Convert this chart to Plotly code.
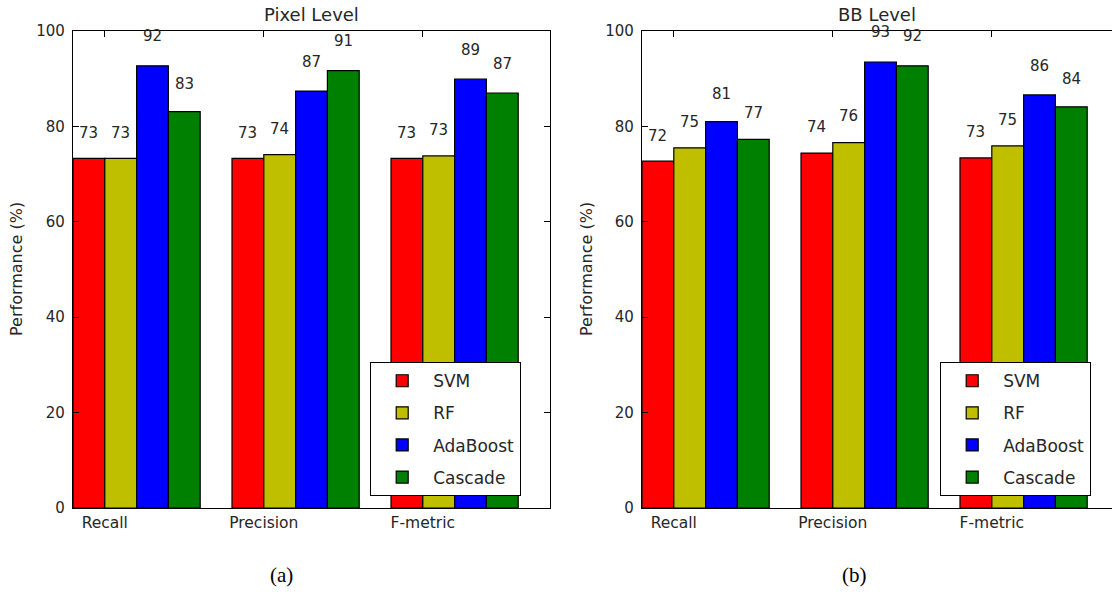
import numpy as np
import plotly.graph_objects as go

categories = ["Recall", "Precision", "F-metric"]
methods = ["SVM", "RF", "AdaBoost", "Cascade"]
colors = ["#ff0000", "#bfbf00", "#0000ff", "#008000"]

pixel_svm = [73.3, 73.3, 73.3]
pixel_rf = [73.3, 74.1, 73.8]
pixel_ada = [92.7, 87.4, 89.9]
pixel_cascade = [83.1, 91.7, 87.0]

bb_svm = [72.7, 74.4, 73.4]
bb_rf = [75.5, 76.6, 75.9]
bb_ada = [81.0, 93.5, 86.6]
bb_cascade = [77.3, 92.7, 84.1]

y_ticks = [0, 20, 40, 60, 80, 100]

W, H = 1112, 592
FONT = "DejaVu Sans"
TXT = "#262626"

ind = np.arange(len(categories))
bw = 0.2

fig = go.Figure()

panels = [
    ([pixel_svm, pixel_rf, pixel_ada, pixel_cascade], "x", "y", "legend", "Pixel Level"),
    ([bb_svm, bb_rf, bb_ada, bb_cascade], "x2", "y2", "legend2", "BB Level"),
]

annotations = []
for series, xa, ya, lg, title in panels:
    for k, (name, vals, col) in enumerate(zip(methods, series, colors)):
        xs = ind + k * bw + bw / 2
        fig.add_trace(go.Bar(
            x=xs, y=vals, width=bw, name=name,
            marker=dict(color=col, line=dict(color="black", width=1.2)),
            xaxis=xa, yaxis=ya, legend=lg, legendgroup=name + lg,
            hoverinfo="skip",
        ))
        for xv, v in zip(xs, vals):
            annotations.append(dict(
                x=xv, y=1.05 * v, xref=xa, yref=ya, text=str(int(v)),
                showarrow=False, yanchor="bottom", xanchor="center", yshift=-2,
                borderpad=0, font=dict(family=FONT, size=15, color=TXT)))
    annotations.append(dict(
        x=0.5, y=1, xref=xa + " domain", yref=ya + " domain", text=title,
        showarrow=False, yanchor="bottom", xanchor="center", yshift=5,
        borderpad=0, font=dict(family=FONT, size=18, color=TXT)))

# y-axis titles
for xp in [16 / W, 586 / W]:
    annotations.append(dict(
        x=xp, y=(592 - 269) / H, xref="paper", yref="paper", text="Performance (%)",
        textangle=-90, showarrow=False, xanchor="center", yanchor="middle",
        font=dict(family=FONT, size=16, color=TXT)))

# captions
for xp, t in [(281 / W, "(a)"), (854 / W, "(b)")]:
    annotations.append(dict(
        x=xp, y=(592 - 575) / H, xref="paper", yref="paper", text=t,
        showarrow=False, xanchor="center", yanchor="middle",
        font=dict(family="Liberation Serif", size=21, color="black")))

ydom = [(592 - 508) / H, (592 - 31) / H]
px_per_unit = 477 / 3.0

common_x = dict(
    tickvals=list(ind + bw), ticktext=categories, ticks="inside", ticklen=6,
    tickcolor="black", showline=True, linecolor="black", linewidth=1.2,
    showgrid=False, zeroline=False, automargin=False,
    tickfont=dict(family=FONT, size=15.5, color=TXT),
)
common_y = dict(
    range=[0, 100], tickvals=y_ticks, ticks="inside", ticklen=6, tickcolor="black",
    showline=True, linecolor="black", linewidth=1.2, showgrid=False, zeroline=False,
    automargin=False, tickfont=dict(family=FONT, size=15, color=TXT),
    ticklabelstandoff=4,
)

legend_common = dict(
    bgcolor="white", bordercolor="black", borderwidth=1.2,
    font=dict(family=FONT, size=17, color=TXT), xanchor="left", yanchor="top",
    tracegroupgap=7, traceorder="grouped", itemclick=False, itemdoubleclick=False,
    itemwidth=52,
)

fig.update_layout(
    width=W, height=H, margin=dict(l=0, r=0, t=0, b=0, autoexpand=False),
    paper_bgcolor="white", plot_bgcolor="white", barmode="overlay",
    xaxis=dict(domain=[73 / W, 550 / W], range=[0, 3], mirror="ticks", **common_x),
    yaxis=dict(domain=ydom, mirror="ticks", **common_y),
    xaxis2=dict(domain=[642 / W, 1.0], range=[0, (1112 - 642) / px_per_unit],
                mirror="ticks", anchor="y2", **common_x),
    yaxis2=dict(domain=ydom, anchor="x2", mirror=False, **common_y),
    legend=dict(x=370 / W, y=(592 - 362) / H, **legend_common),
    legend2=dict(x=940 / W, y=(592 - 362) / H, **legend_common),
    annotations=annotations,
    showlegend=True,
)

fig.write_html("out.html")
